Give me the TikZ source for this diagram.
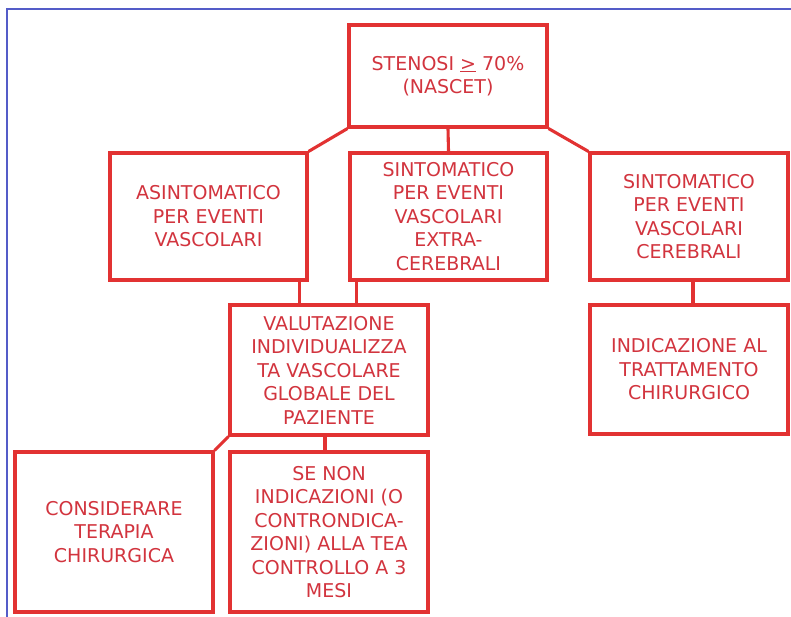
\documentclass[tikz,border=0pt]{standalone}
\usepackage{fontspec}
\setmainfont{DejaVu Sans}
\definecolor{boxred}{RGB}{226,50,50}
\definecolor{txtred}{RGB}{210,52,62}
\definecolor{frameblue}{RGB}{84,92,200}
\tikzset{
  fbox/.style={draw=boxred, line width=3.1pt, rectangle, inner sep=0pt,
    align=center, text=txtred, font=\fontsize{19}{23.5}\selectfont},
  conn/.style={draw=boxred, line width=3.1pt},
}
\begin{document}
\begin{tikzpicture}[x=1pt,y=-1pt]
\useasboundingbox (0,0) rectangle (791,617);
\fill[white] (0,0) rectangle (791,617);
\coordinate (fa) at (7,617);
\coordinate (fb) at (7,9);
\coordinate (fc) at (791,9);
\draw[frameblue, line width=1.6pt] (fa) -- (fb) -- (fc);
\node[fbox, minimum width=198pt, minimum height=102pt] (top) at (448,76) {STENOSI \underline{>} 70\%\\(NASCET)};
\node[fbox, minimum width=197pt, minimum height=127pt] (left) at (208.5,216.5) {ASINTOMATICO\\PER EVENTI\\VASCOLARI};
\node[fbox, minimum width=197pt, minimum height=127pt] (mid) at (448.5,216.5) {SINTOMATICO\\PER EVENTI\\VASCOLARI\\EXTRA-\\CEREBRALI};
\node[fbox, minimum width=198pt, minimum height=127pt] (right) at (689,216.5) {SINTOMATICO\\PER EVENTI\\VASCOLARI\\CEREBRALI};
\node[fbox, minimum width=198pt, minimum height=130pt] (valut) at (329,370) {VALUTAZIONE\\INDIVIDUALIZZA\\TA VASCOLARE\\GLOBALE DEL\\PAZIENTE};
\node[fbox, minimum width=198pt, minimum height=129pt] (indic) at (689,369.5) {INDICAZIONE AL\\TRATTAMENTO\\CHIRURGICO};
\node[fbox, minimum width=198pt, minimum height=160pt] (consid) at (114,532) {CONSIDERARE\\TERAPIA\\CHIRURGICA};
\node[fbox, minimum width=198pt, minimum height=160pt] (senon) at (329,532) {SE NON\\INDICAZIONI (O\\CONTRONDICA-\\ZIONI) ALLA TEA\\CONTROLLO A 3\\MESI};
\draw[conn] (top.south west) -- (left.north east);
\draw[conn] (top.south) -- (mid.north);
\draw[conn] (top.south east) -- (right.north west);
\draw[conn] ([xshift=-9pt]left.south east) -- ([xshift=-9pt]left.south east |- valut.north);
\draw[conn] ([xshift=8pt]mid.south west) -- ([xshift=8pt]mid.south west |- valut.north);
\draw[conn] ([xshift=4pt]right.south) -- ([xshift=4pt]right.south |- indic.north);
\draw[conn] (valut.south west) -- (consid.north east);
\draw[conn] ([xshift=-4pt]valut.south) -- ([xshift=-4pt]valut.south |- senon.north);
\end{tikzpicture}
\end{document}
